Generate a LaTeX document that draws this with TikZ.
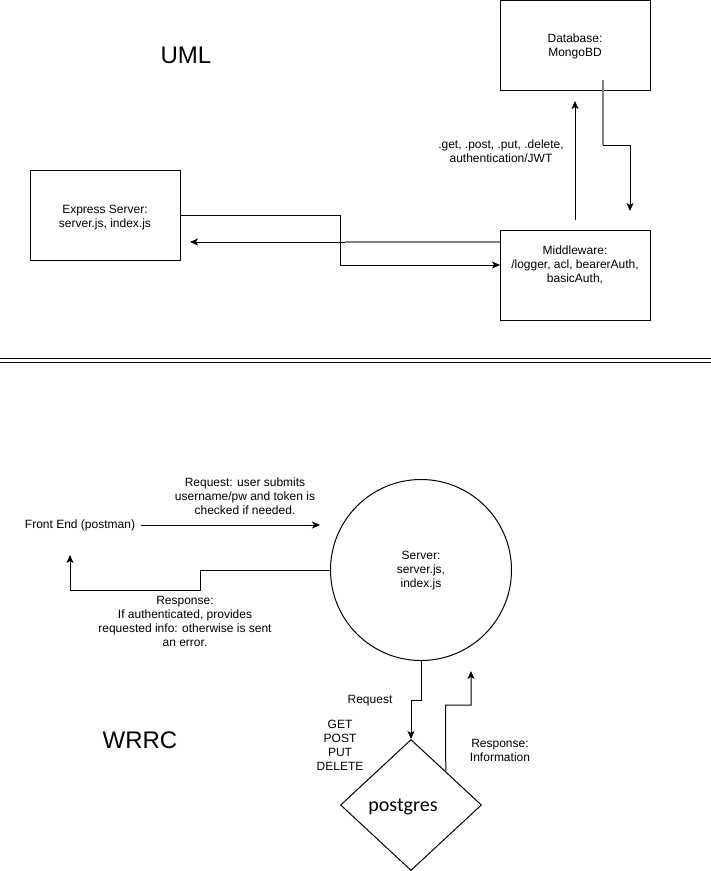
\documentclass[tikz,border=0pt]{standalone}
\usepackage{fontspec}
\setmainfont{Liberation Sans}
\newfontfamily\carlito{Carlito}
\usetikzlibrary{arrows.meta,shapes.geometric,calc}
\begin{document}
\begin{tikzpicture}[x=1pt,y=-1pt,
  txt/.style={font=\fontsize{12}{14}\selectfont, align=center, inner sep=0pt},
  bigtxt/.style={font=\fontsize{24}{28}\selectfont, inner sep=0pt},
  boxnode/.style={draw, line width=1pt, minimum width=150pt, minimum height=90pt, inner sep=0pt},
  conn/.style={line width=1pt, -{Stealth[length=8pt,width=7pt,inset=2pt]}},
  grayline/.style={line width=1.8pt, draw=gray}
]
\useasboundingbox (0,0) rectangle (711,871);
\fill[white] (0,0) rectangle (711,871);

% ---------- UML ----------
\node[bigtxt] (uml) at (186,55) {UML};

\node[boxnode] (db) at (575,45) {};
\node[txt] (dbt) at (575,46) {Database:\\MongoBD};

\node[boxnode] (mw) at (575,275) {};
\node[txt] (mwt) at (575,265) {Middleware:\\/logger, acl, bearerAuth,\\basicAuth,};

\node[boxnode] (ex) at (105,215) {};
\node[txt] (ext) at (105,218) {Express Server:\\server.js, index.js};

\node[txt] (getl) at (501,151) {.get, .post, .put, .delete,\\authentication/JWT};

% Middleware -> Database
\coordinate (mwup) at (575,220);
\coordinate (dbup) at (575,101);
\draw[conn] (mwup) -- (dbup);

% Database -> Middleware
\coordinate (dbs) at (603,80);
\coordinate (dbb) at (603,145);
\coordinate (dbc) at (630,145);
\coordinate (dbe) at (630,211);
\draw[grayline] (dbs) -- (dbb);
\draw[conn] (dbb) -- (dbc) -- (dbe);

% Express -> Middleware
\coordinate (exb1) at (340,215);
\coordinate (exb2) at (340,265);
\coordinate (mwin) at (500,265);
\draw[conn] (ex.east) -- (exb1) -- (exb2) -- (mwin);

% Middleware -> Express
\coordinate (mwo) at (500,242);
\coordinate (mwb) at (345,242);
\coordinate (exin) at (190,242);
\draw[grayline] (mwo) -- (mwb);
\draw[conn] (mwb) -- (exin);

% ---------- separator ----------
\coordinate (sepl1) at (0,358.3);
\coordinate (sepr1) at (711,358.3);
\coordinate (sepl2) at (0,362.3);
\coordinate (sepr2) at (711,362.3);
\draw[line width=1.1pt] (sepl1) -- (sepr1);
\draw[line width=1.1pt] (sepl2) -- (sepr2);

% ---------- WRRC ----------
\node[bigtxt] (wrrc) at (140,740) {WRRC};

\node[txt] (fe) at (80,525) {Front End (postman)};
\node[draw, circle, line width=1pt, minimum size=181pt, inner sep=0pt] (srv) at (421,570) {};
\node[txt] (srvt) at (421,571) {Server:\\server.js,\\index.js};

\node[txt] (reql) at (245,496) {Request: user submits\\username/pw and token is\\checked if needed.};
\coordinate (fein) at (320,525);
\draw[conn] (fe.east) ++(6,0) -- (fein);

\node[txt] (resl) at (185,621) {Response:\\If authenticated, provides\\requested info: otherwise is sent\\an error.};
\coordinate (rb1) at (200,570);
\coordinate (rb2) at (200,590);
\coordinate (rb3) at (70,590);
\coordinate (rb4) at (70,555);
\draw[conn] (srv.west) -- (rb1) -- (rb2) -- (rb3) -- (rb4);

\node[draw, diamond, line width=1pt, minimum width=141pt, minimum height=131pt, inner sep=0pt] (pg) at (411,805) {};
\node[font=\carlito\fontsize{20}{24}\selectfont, inner sep=0pt] (pgt) at (403,807) {postgres};

\node[txt] (rq) at (370,701) {Request};
\node[txt] (verbs) at (340,745.5) {GET\\POST\\PUT\\DELETE};
\coordinate (qb1) at (421,700);
\coordinate (qb2) at (411,700);
\draw[conn] (srv.south) -- (qb1) -- (qb2) -- (pg.north);

\node[txt] (ri) at (500,750) {Response:\\Information};
\coordinate (pgo) at ($(pg.north)!0.49!(pg.east)$);
\coordinate (pb1) at (445.5,705);
\coordinate (pb2) at (471,705);
\coordinate (pb3) at (471,671);
\draw[conn] (pgo) -- (pb1) -- (pb2) -- (pb3);
\end{tikzpicture}
\end{document}
